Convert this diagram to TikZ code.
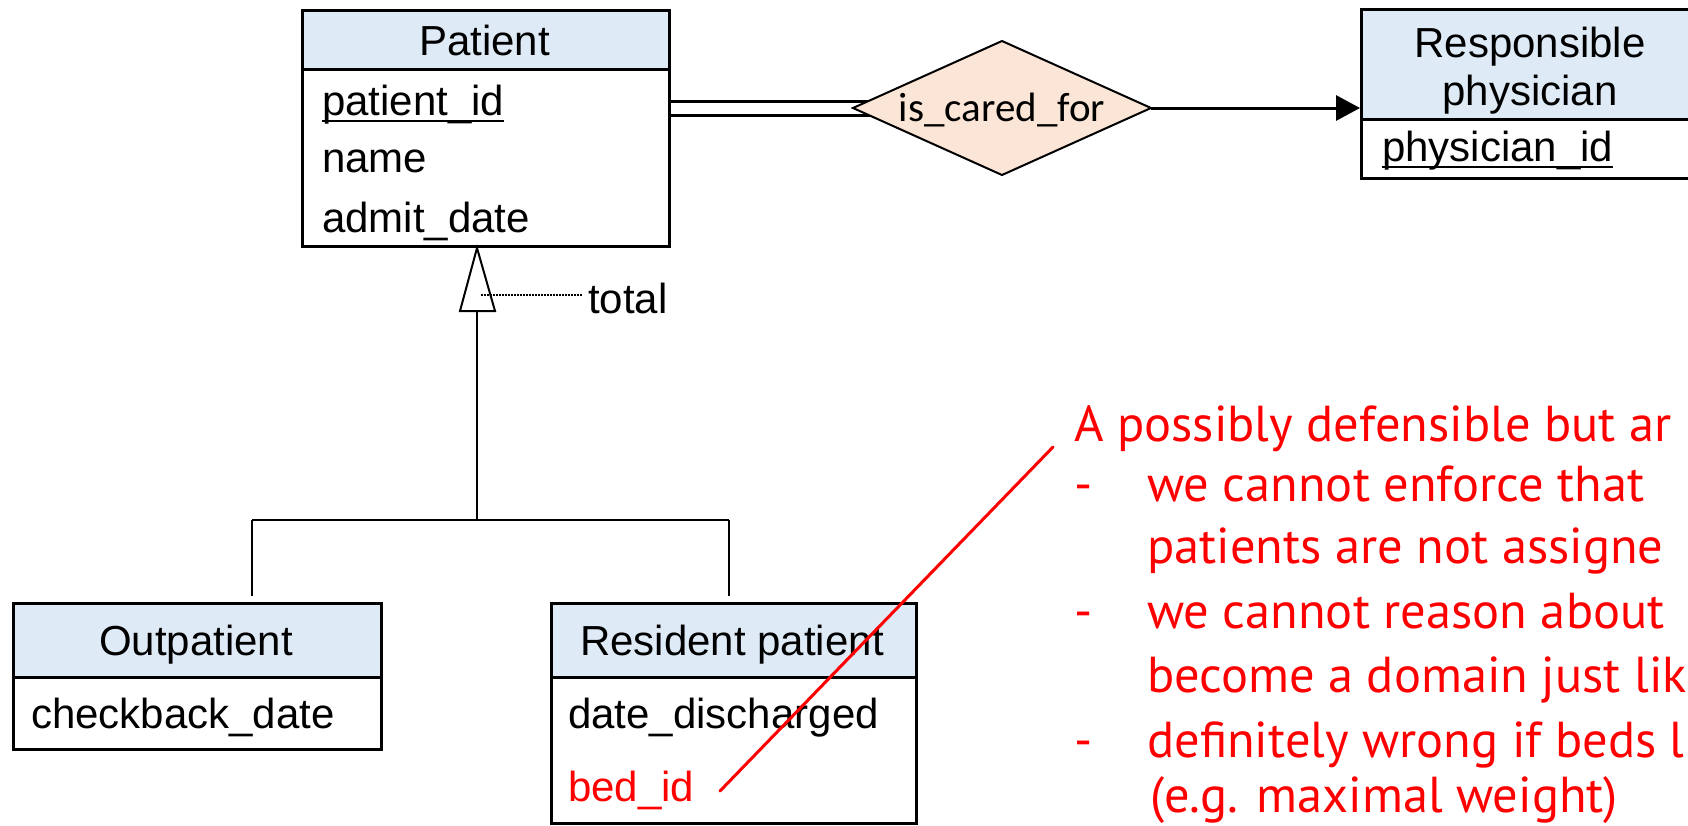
\documentclass[tikz,border=0pt]{standalone}
\usepackage{fontspec}
\setmainfont{Liberation Sans}
\newfontfamily\calibrifont{Carlito}
\newfontfamily\handfont{PT Sans}
\usetikzlibrary{arrows.meta}
\pgfdeclarelayer{bg}
\pgfsetlayers{bg,main}
\definecolor{hdrblue}{RGB}{222,234,246}
\definecolor{relpeach}{RGB}{251,229,214}
\definecolor{notered}{RGB}{255,0,0}
% key attribute: text with a thin rule just under the baseline
\newcommand\keyattr[1]{\setbox0=\hbox{#1}\rlap{\rule[-0.16em]{\wd0}{0.05em}}\box0}
\tikzset{
  x=1pt, y=-1pt,
  entbox/.style={draw, line width=3pt, anchor=north west, inner sep=0pt},
  hdrbox/.style={entbox, fill=hdrblue},
  etitle/.style={anchor=base, inner sep=0pt, font=\fontsize{42}{48}\selectfont},
  attr/.style={anchor=base west, inner sep=0pt, font=\fontsize{42}{48}\selectfont},
  reltext/.style={anchor=base, inner sep=0pt, font=\calibrifont\fontsize{41}{48}\selectfont},
  relshape/.style={draw, line width=2pt, fill=relpeach, line join=miter},
  genline/.style={line width=2pt},
  hand/.style={anchor=base west, inner sep=0pt, text=notered,
    font=\handfont\fontsize{50.5}{60}\selectfont},
}
\begin{document}
\begin{tikzpicture}
\useasboundingbox (0,0) rectangle (1688,825);
\clip (0,0) rectangle (1688,825);

% Patient
\node[hdrbox, minimum width=367pt, minimum height=59pt] (patientH) at (301,9) {};
\node[entbox, minimum width=367pt, minimum height=236pt] (patient) at (301,9) {};
\node[etitle] (patientT) at (484.5,55) {Patient};
\node[attr] (pid) at (322,115) {\keyattr{patient\_id}};
\node[attr] (pname) at (322,172) {name};
\node[attr] (padmit) at (322,232) {admit\_date};

% Responsible physician
\node[hdrbox, minimum width=340pt, minimum height=110pt] (respH) at (1360,8) {};
\node[entbox, minimum width=340pt, minimum height=169pt] (resp) at (1360,8) {};
\node[etitle] (respT1) at (1530,57) {Responsible};
\node[etitle] (respT2) at (1530,105) {physician};
\node[attr] (phid) at (1382,161) {\keyattr{physician\_id}};

% Relationship diamond
\coordinate (relW) at (853,108);
\coordinate (relN) at (1002,41);
\coordinate (relE) at (1151,108);
\coordinate (relS) at (1002,175);
\draw[relshape] (relW) -- (relN) -- (relE) -- (relS) -- cycle;
\node[reltext] (rel) at (1002,121) {is\_cared\_for};

\begin{pgfonlayer}{bg}
  \draw[line width=3pt] ([yshift=7pt]relW -| patient.east) -- ([xshift=40pt,yshift=7pt]relW);
  \draw[line width=3pt] ([yshift=-7pt]relW -| patient.east) -- ([xshift=40pt,yshift=-7pt]relW);
\end{pgfonlayer}
\draw[line width=3pt, -{Triangle[length=24pt,width=25pt]}] (relE) -- (relE -| resp.west);

% Outpatient
\node[hdrbox, minimum width=368pt, minimum height=74pt] (outH) at (12,602) {};
\node[entbox, minimum width=368pt, minimum height=146pt] (outp) at (12,602) {};
\node[etitle] (outT) at (196,655) {Outpatient};
\node[attr] (chk) at (31,728) {checkback\_date};

% Resident patient
\node[hdrbox, minimum width=365pt, minimum height=74pt] (resH) at (550,602) {};
\node[entbox, minimum width=365pt, minimum height=220pt] (res) at (550,602) {};
\node[etitle] (resT) at (732,655) {Resident patient};
\node[attr] (disch) at (568,728) {date\_discharged};
\node[attr, text=notered] (bed) at (568,801) {bed\_id};

% Specialisation
\coordinate (isa) at (477,311);
\coordinate (split) at (477,520);
\coordinate (jl) at (252,520);
\coordinate (jr) at (729,520);
\draw[genline] ([xshift=-17pt]isa) -- (isa |- patient.south) -- ([xshift=18pt]isa) -- cycle;
\draw[genline] (isa) -- (split);
\draw[genline] (jl) -- (jr);
\draw[genline] (jl) -- ([yshift=6pt]jl |- outp.north);
\draw[genline] (jr) -- ([yshift=6pt]jr |- res.north);

\node[attr] (total) at (588,313) {total};
\coordinate (tot0) at (481,295);
\draw[line width=1.5pt, dash pattern=on 1.5pt off 1.5pt] (tot0) -- ([xshift=-5pt]tot0 -| total.west);

% Annotation
\coordinate (bedtip) at (720,791);
\coordinate (notetip) at (1053,447);
\draw[notered, line width=3pt, line cap=round] (bedtip) -- (notetip);

\node[hand] (n1) at (1074,441) {A possibly defensible but ar};
\node[hand] (d1) at (1074,501) {-};
\node[hand] (n2) at (1147,501) {we cannot enforce that};
\node[hand] (n3) at (1147,563) {patients are not assigne};
\node[hand] (d2) at (1074,628) {-};
\node[hand] (n4) at (1147,628) {we cannot reason about};
\node[hand] (n5) at (1147,692) {become a domain just lik};
\node[hand] (d3) at (1074,757) {-};
\node[hand] (n6) at (1147,757) {definitely wrong if beds l};
\node[hand] (n7) at (1150,812) {(e.g. maximal weight)};
\end{tikzpicture}
\end{document}
